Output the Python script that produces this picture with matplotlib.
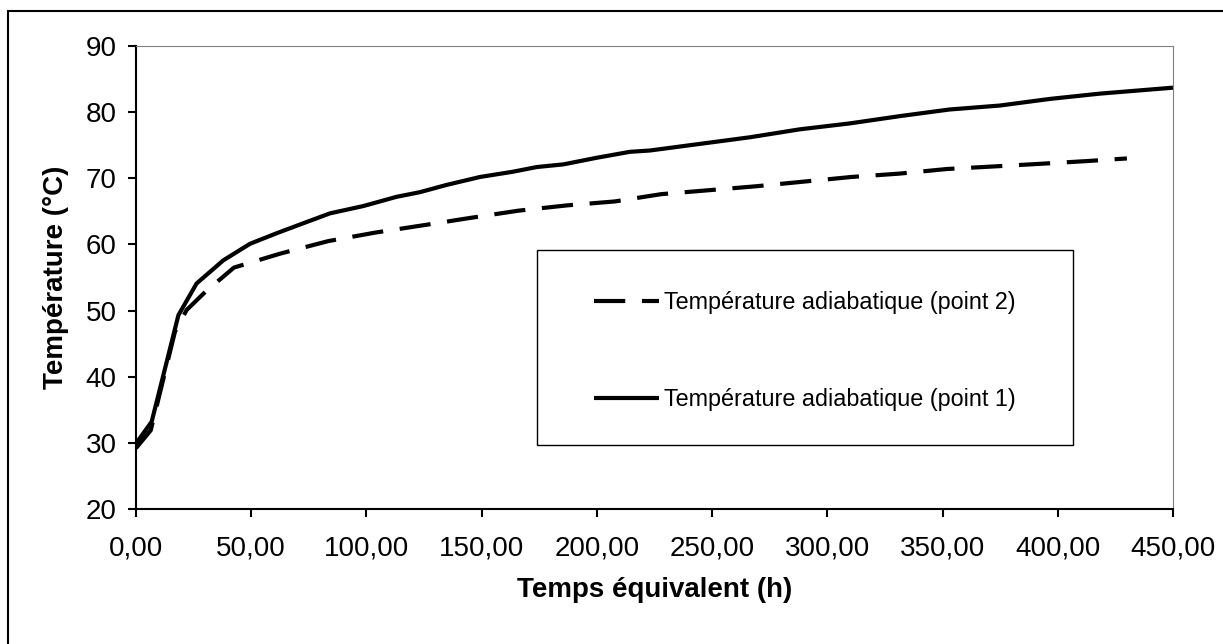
import matplotlib
matplotlib.use("Agg")
import matplotlib.pyplot as plt
from matplotlib.patches import Rectangle
from matplotlib.ticker import FuncFormatter

plt.rcParams['font.family'] = ['Liberation Sans', 'DejaVu Sans']

# --- data ---
# point 1 (solid line)
t_p1 = [0, 6.8, 18.4, 26.3, 37.9, 49.5, 61.1, 72.6, 84.2, 98.6, 113.1, 123.2,
        134.8, 149.3, 163.7, 173.9, 185.4, 199.9, 214.3, 223, 244.7, 266.4,
        288, 309.8, 331.5, 353, 374.9, 396.6, 418.3, 450]
temp_p1 = [29.9, 33.2, 49.3, 54.1, 57.6, 60.1, 61.7, 63.2, 64.7, 65.8, 67.2, 67.9,
           69.0, 70.2, 71.0, 71.7, 72.1, 73.1, 74.0, 74.2, 75.2, 76.2,
           77.4, 78.3, 79.4, 80.4, 81.0, 82.0, 82.8, 83.7]

# point 2 (dashed line)
t_p2 = [0, 6.4, 16.9, 22, 30, 42.5, 62.5, 83.4, 104, 124.7, 144.9, 165.9,
        186.9, 207.8, 227.9, 248.7, 269.3, 289.9, 310.5, 331.1, 351.8, 372.7,
        393, 412.5, 430]
temp_p2 = [29.2, 31.9, 46.8, 50.1, 52.8, 56.5, 58.6, 60.5, 61.8, 62.9, 64.0, 65.1,
           65.9, 66.5, 67.6, 68.2, 68.8, 69.5, 70.2, 70.7, 71.4, 71.8,
           72.2, 72.6, 73.0]

xticks = [0, 50, 100, 150, 200, 250, 300, 350, 400, 450]
yticks = [20, 30, 40, 50, 60, 70, 80, 90]

label_p2 = "Température adiabatique (point 2)"
label_p1 = "Température adiabatique (point 1)"

# --- figure ---
fig = plt.figure(figsize=(12.23, 6.44), dpi=100)
ax = fig.add_axes([136 / 1223, 1 - 509 / 644, 1037 / 1223, 463 / 644])

# outer chart border (only left/top visible in the reference)
fig.patches.append(Rectangle((8 / 1223, -0.5), 3, 1.5 - 11 / 644,
                             transform=fig.transFigure, fill=False,
                             lw=1.5, ec='black', clip_on=False))

l2, = ax.plot(t_p2, temp_p2, color='black', lw=3, dash_capstyle='butt')
l2.set_dashes((7.5, 4))
l1, = ax.plot(t_p1, temp_p1, color='black', lw=3, solid_capstyle='butt')

ax.set_xlim(0, 450)
ax.set_ylim(20, 90)
ax.set_xticks(xticks)
ax.set_yticks(yticks)
ax.xaxis.set_major_formatter(FuncFormatter(lambda v, p: f"{v:.2f}".replace('.', ',')))
ax.tick_params(axis='both', direction='out', length=6, width=1.5, labelsize=20)
ax.tick_params(axis='x', pad=13)
ax.tick_params(axis='y', pad=8)

for side in ['left', 'bottom']:
    ax.spines[side].set_linewidth(1.5)
    ax.spines[side].set_color('black')
for side in ['top', 'right']:
    ax.spines[side].set_linewidth(0.8)
    ax.spines[side].set_color('#808080')

ax.set_xlabel("Temps équivalent (h)", fontsize=20, fontweight='bold', labelpad=11)
ax.set_ylabel("Température (°C)", fontsize=20, fontweight='bold', labelpad=12)

# legend with its own frame
ax.add_patch(Rectangle((0.387, 0.138), 0.517, 0.421, transform=ax.transAxes,
                       fill=True, fc='white', ec='black', lw=1, zorder=3))
leg = ax.legend([l2, l1], [label_p2, label_p1], loc='center',
                bbox_to_anchor=(0.645, 0.341), frameon=False, fontsize=16.8,
                labelspacing=3.2, handlelength=2.8, handletextpad=0.2)
leg.set_zorder(4)

fig.savefig("out.png", dpi=100)
